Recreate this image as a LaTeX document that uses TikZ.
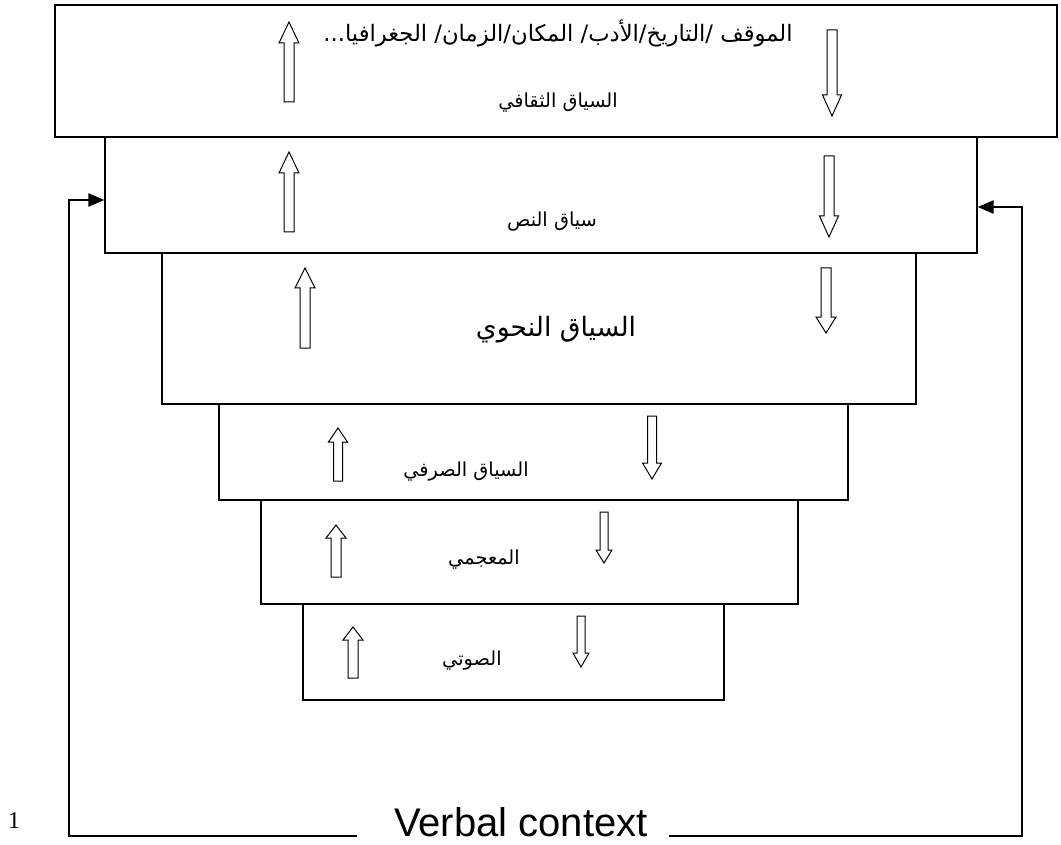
\documentclass[tikz,border=0pt]{standalone}
\usepackage{fontspec}
\setmainfont{Liberation Sans}
\newfontfamily\arabicfont[Script=Arabic]{DejaVu Sans}
\newfontfamily\numfont{Liberation Serif}
\TeXXeTstate=1
\usetikzlibrary{arrows.meta}
\tikzset{
  box/.style={draw, line width=1.1pt, fill=white, inner sep=0pt},
  blockarr/.style={draw, line width=0.75pt, fill=white, line join=miter},
  conn/.style={draw, line width=1.1pt},
  tip/.style={-{Triangle[length=12pt,width=10pt]}},
  ar/.style={font=\arabicfont\fontsize{14.5}{17}\selectfont, inner sep=0pt},
  arbig/.style={font=\arabicfont\fontsize{20}{24}\selectfont, inner sep=0pt},
}
% x, top, bottom, head length, shaft width, head width
\newcommand{\ArUp}[6]{%
  \draw[blockarr] (#1,#2) -- ({#1+#6/2},{#2+#4}) -- ({#1+#5/2},{#2+#4}) -- ({#1+#5/2},#3)
    -- ({#1-#5/2},#3) -- ({#1-#5/2},{#2+#4}) -- ({#1-#6/2},{#2+#4}) -- cycle;}
\newcommand{\ArDown}[6]{%
  \draw[blockarr] (#1,#3) -- ({#1+#6/2},{#3-#4}) -- ({#1+#5/2},{#3-#4}) -- ({#1+#5/2},#2)
    -- ({#1-#5/2},#2) -- ({#1-#5/2},{#3-#4}) -- ({#1-#6/2},{#3-#4}) -- cycle;}
\begin{document}
\begin{tikzpicture}[x=0.75pt,y=-0.75pt]
\useasboundingbox (0,0) rectangle (1061,845);
% boxes
\node[box, minimum width={1002*0.75pt}, minimum height={132*0.75pt}] (b1) at (556,71) {};
\node[box, minimum width={872*0.75pt}, minimum height={116*0.75pt}] (b2) at (541,195) {};
\node[box, minimum width={754*0.75pt}, minimum height={151*0.75pt}] (b3) at (539,328.5) {};
\node[box, minimum width={629*0.75pt}, minimum height={96*0.75pt}] (b4) at (533.5,452) {};
\node[box, minimum width={537*0.75pt}, minimum height={104*0.75pt}] (b5) at (529.5,552) {};
\node[box, minimum width={421*0.75pt}, minimum height={96*0.75pt}] (b6) at (513.5,652) {};
% block arrows
\ArUp{289}{22}{102}{21}{10}{20}
\ArDown{832}{30}{116}{21}{10}{19}
\ArUp{289}{152}{232}{21}{10}{20}
\ArDown{829}{156}{237}{21}{10}{19}
\ArUp{305}{268}{348}{20}{10}{20}
\ArDown{826}{268}{333}{16}{10}{20}
\ArUp{338}{428}{481}{14}{9}{19}
\ArDown{652}{416}{479}{16}{9}{19}
\ArUp{336}{525}{577}{13}{10}{20}
\ArDown{604}{512}{563}{13}{8}{16}
\ArUp{353}{627}{678}{13}{10}{20}
\ArDown{581}{616}{667}{14}{8}{16}
% texts
\node[ar, font=\arabicfont\fontsize{17}{20}\selectfont] (t1) at (558,33) {\beginR الموقف /التاريخ/الأدب/ المكان/الزمان/ الجغرافيا...\endR};
\node[ar] (t2) at (558,103) {\beginR السياق الثقافي\endR};
\node[ar] (t3) at (552,222) {\beginR سياق النص\endR};
\node[arbig] (t4) at (556,330) {\beginR السياق النحوي\endR};
\node[ar] (t5) at (466,472) {\beginR السياق الصرفي\endR};
\node[ar] (t6) at (484,560) {\beginR المعجمي\endR};
\node[ar] (t7) at (472,661) {\beginR الصوتي\endR};
\node[font=\fontsize{30}{34}\selectfont, inner sep=0pt, anchor=base] (vc) at (521,836) {Verbal context};
\node[font=\numfont\fontsize{18}{20}\selectfont, inner sep=0pt, anchor=base] (num) at (14,828) {1};
% feedback connectors
\coordinate (lstart) at (357,836);
\coordinate (lcorner) at (69,836);
\coordinate (ltop) at (69,200);
\coordinate (rstart) at (669,836);
\coordinate (rcorner) at (1022,836);
\coordinate (rtop) at (1022,207);
\draw[conn, tip] (lstart) -- (lcorner) -- (ltop) -- (b2.west |- ltop);
\draw[conn, tip] (rstart) -- (rcorner) -- (rtop) -- (b2.east |- rtop);
\end{tikzpicture}
\end{document}
